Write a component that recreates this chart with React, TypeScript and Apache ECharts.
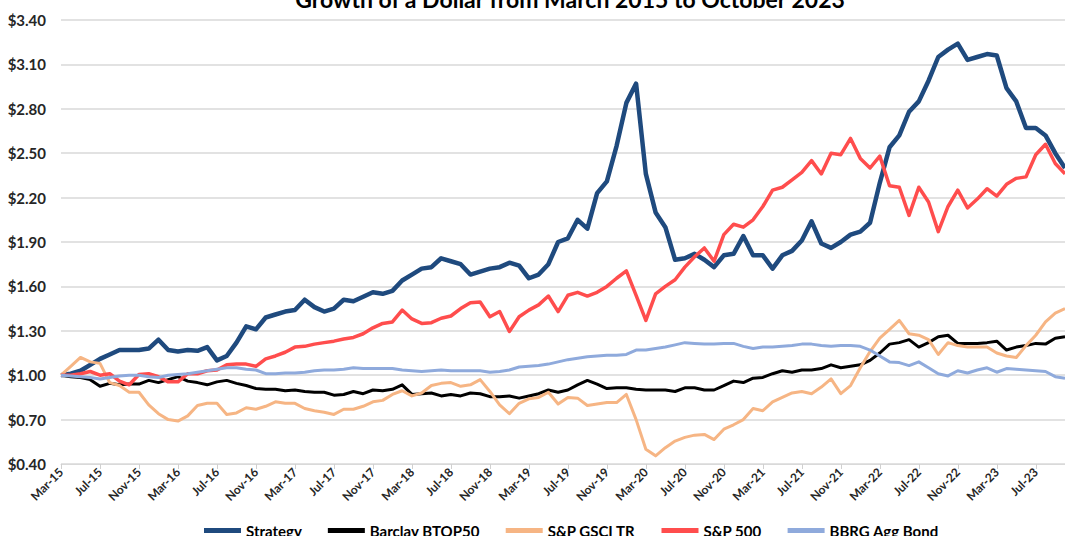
import React, { useEffect, useRef } from "react";
import * as echarts from "echarts";

const titleText = "Growth of a Dollar from March 2015 to October 2023";

const months = [
  "Mar-15","Apr-15","May-15","Jun-15","Jul-15","Aug-15","Sep-15","Oct-15","Nov-15","Dec-15",
  "Jan-16","Feb-16","Mar-16","Apr-16","May-16","Jun-16","Jul-16","Aug-16","Sep-16","Oct-16","Nov-16","Dec-16",
  "Jan-17","Feb-17","Mar-17","Apr-17","May-17","Jun-17","Jul-17","Aug-17","Sep-17","Oct-17","Nov-17","Dec-17",
  "Jan-18","Feb-18","Mar-18","Apr-18","May-18","Jun-18","Jul-18","Aug-18","Sep-18","Oct-18","Nov-18","Dec-18",
  "Jan-19","Feb-19","Mar-19","Apr-19","May-19","Jun-19","Jul-19","Aug-19","Sep-19","Oct-19","Nov-19","Dec-19",
  "Jan-20","Feb-20","Mar-20","Apr-20","May-20","Jun-20","Jul-20","Aug-20","Sep-20","Oct-20","Nov-20","Dec-20",
  "Jan-21","Feb-21","Mar-21","Apr-21","May-21","Jun-21","Jul-21","Aug-21","Sep-21","Oct-21","Nov-21","Dec-21",
  "Jan-22","Feb-22","Mar-22","Apr-22","May-22","Jun-22","Jul-22","Aug-22","Sep-22","Oct-22","Nov-22","Dec-22",
  "Jan-23","Feb-23","Mar-23","Apr-23","May-23","Jun-23","Jul-23","Aug-23","Sep-23","Oct-23",
];

const strategy = [
  1.00, 1.01, 1.03, 1.07, 1.11, 1.14, 1.17, 1.17, 1.17, 1.18,
  1.24, 1.17, 1.16, 1.17, 1.165, 1.19, 1.10, 1.13, 1.22, 1.33,
  1.31, 1.39, 1.41, 1.43, 1.44, 1.51, 1.46, 1.43, 1.45, 1.51,
  1.50, 1.53, 1.56, 1.55, 1.57, 1.64, 1.68, 1.72, 1.73, 1.79,
  1.77, 1.75, 1.68, 1.70, 1.72, 1.73, 1.76, 1.74, 1.655, 1.68,
  1.75, 1.90, 1.925, 2.05, 1.99, 2.23, 2.31, 2.55, 2.84, 2.97,
  2.36, 2.10, 2.00, 1.78, 1.79, 1.82, 1.78, 1.73, 1.81, 1.82,
  1.94, 1.81, 1.81, 1.72, 1.81, 1.84, 1.91, 2.04, 1.89, 1.86,
  1.90, 1.95, 1.97, 2.03, 2.30, 2.54, 2.62, 2.78, 2.85, 2.99,
  3.15, 3.20, 3.24, 3.13, 3.15, 3.17, 3.16, 2.94, 2.85, 2.67,
  2.67, 2.62, 2.50, 2.40,
];

const barclay = [
  1.00, 0.99, 0.985, 0.97, 0.925, 0.945, 0.935, 0.94, 0.94, 0.965,
  0.95, 0.97, 0.99, 0.96, 0.95, 0.935, 0.955, 0.965, 0.945, 0.93,
  0.91, 0.905, 0.905, 0.895, 0.90, 0.89, 0.885, 0.885, 0.865, 0.87,
  0.89, 0.875, 0.90, 0.895, 0.905, 0.935, 0.87, 0.875, 0.88, 0.86,
  0.87, 0.86, 0.88, 0.875, 0.855, 0.855, 0.86, 0.845, 0.86, 0.875,
  0.90, 0.885, 0.90, 0.935, 0.965, 0.94, 0.91, 0.915, 0.915, 0.905,
  0.90, 0.90, 0.90, 0.89, 0.915, 0.915, 0.90, 0.90, 0.93, 0.96,
  0.95, 0.98, 0.985, 1.01, 1.03, 1.02, 1.035, 1.035, 1.045, 1.07,
  1.05, 1.06, 1.07, 1.10, 1.15, 1.21, 1.22, 1.24, 1.19, 1.22,
  1.26, 1.27, 1.215, 1.215, 1.215, 1.22, 1.23, 1.17, 1.19, 1.20,
  1.215, 1.21, 1.25, 1.26,
];

const gsci = [
  1.00, 1.06, 1.12, 1.09, 1.08, 0.95, 0.93, 0.885, 0.885, 0.80,
  0.74, 0.70, 0.69, 0.725, 0.795, 0.81, 0.81, 0.735, 0.745, 0.78,
  0.77, 0.79, 0.82, 0.81, 0.81, 0.775, 0.76, 0.75, 0.735, 0.77,
  0.77, 0.79, 0.82, 0.83, 0.87, 0.895, 0.86, 0.88, 0.93, 0.945,
  0.95, 0.925, 0.935, 0.97, 0.89, 0.80, 0.74, 0.81, 0.84, 0.85,
  0.885, 0.805, 0.85, 0.845, 0.795, 0.805, 0.815, 0.815, 0.87, 0.70,
  0.50, 0.455, 0.51, 0.555, 0.58, 0.595, 0.60, 0.565, 0.635, 0.665,
  0.70, 0.775, 0.76, 0.82, 0.85, 0.88, 0.89, 0.875, 0.92, 0.975,
  0.875, 0.93, 1.05, 1.16, 1.25, 1.31, 1.37, 1.28, 1.27, 1.24,
  1.14, 1.22, 1.20, 1.19, 1.19, 1.19, 1.15, 1.13, 1.12, 1.20,
  1.27, 1.36, 1.42, 1.45,
];

const sp500 = [
  1.00, 1.00, 1.01, 1.025, 1.00, 1.01, 0.96, 0.935, 1.005, 1.01,
  0.99, 0.955, 0.955, 1.01, 1.01, 1.03, 1.035, 1.07, 1.075, 1.075,
  1.06, 1.11, 1.13, 1.155, 1.19, 1.195, 1.21, 1.22, 1.23, 1.245,
  1.255, 1.28, 1.32, 1.35, 1.36, 1.44, 1.38, 1.35, 1.355, 1.385,
  1.40, 1.45, 1.49, 1.495, 1.395, 1.43, 1.295, 1.395, 1.44, 1.475,
  1.535, 1.43, 1.54, 1.56, 1.535, 1.56, 1.60, 1.655, 1.705, 1.54,
  1.37, 1.55, 1.60, 1.645, 1.73, 1.80, 1.86, 1.77, 1.95, 2.02,
  2.00, 2.05, 2.14, 2.25, 2.27, 2.32, 2.37, 2.45, 2.36, 2.50,
  2.49, 2.60, 2.465, 2.40, 2.48, 2.28, 2.27, 2.08, 2.27, 2.17,
  1.97, 2.14, 2.25, 2.13, 2.19, 2.26, 2.21, 2.29, 2.33, 2.34,
  2.49, 2.56, 2.43, 2.36,
];

const bond = [
  1.00, 0.995, 0.99, 0.985, 0.975, 0.985, 0.995, 1.00, 1.00, 0.99,
  0.985, 1.00, 1.005, 1.01, 1.02, 1.03, 1.04, 1.05, 1.05, 1.04,
  1.035, 1.01, 1.01, 1.015, 1.015, 1.02, 1.03, 1.035, 1.035, 1.04,
  1.05, 1.045, 1.045, 1.045, 1.045, 1.035, 1.03, 1.025, 1.03, 1.035,
  1.03, 1.03, 1.03, 1.03, 1.02, 1.025, 1.035, 1.055, 1.06, 1.065,
  1.075, 1.09, 1.105, 1.115, 1.125, 1.13, 1.135, 1.135, 1.14, 1.17,
  1.17, 1.18, 1.19, 1.205, 1.22, 1.215, 1.21, 1.21, 1.215, 1.215,
  1.195, 1.18, 1.19, 1.19, 1.195, 1.20, 1.21, 1.21, 1.20, 1.195,
  1.20, 1.20, 1.195, 1.17, 1.13, 1.09, 1.085, 1.065, 1.09, 1.05,
  1.01, 0.995, 1.03, 1.015, 1.035, 1.05, 1.02, 1.045, 1.04, 1.035,
  1.03, 1.025, 0.99, 0.98,
];

const seriesNames = ["Strategy", "Barclay BTOP50", "S&P GSCI TR", "S&P 500", "BBRG Agg Bond"];
const seriesColors = ["#1F4A7E", "#000000", "#F6B584", "#FF4D4D", "#8FAADC"];
const seriesWidths = [4.5, 3, 3, 3.5, 3];
const seriesData = [strategy, barclay, gsci, sp500, bond];

const FONT = "Lato, 'Open Sans', sans-serif";

export default function App() {
  const ref = useRef<HTMLDivElement>(null);

  useEffect(() => {
    if (!ref.current) return;
    const chart = echarts.init(ref.current, undefined, { renderer: "svg" });
    chart.setOption({
      animation: false,
      backgroundColor: "#ffffff",
      textStyle: { fontFamily: FONT },
      graphic: [
        {
          type: "text",
          x: 570,
          y: -1,
          style: {
            text: titleText,
            fontSize: 23,
            fontWeight: "bold",
            fontFamily: FONT,
            fill: "#000000",
            align: "center",
            verticalAlign: "middle",
          },
        },
      ],
      legend: {
        data: seriesNames,
        left: 199,
        top: 518,
        icon: "rect",
        itemWidth: 37,
        itemHeight: 5,
        itemGap: 26,
        textStyle: { fontSize: 15, fontWeight: "bold", color: "#000000", fontFamily: FONT },
      },
      grid: { left: 61, right: -10, top: 20, bottom: 72, containLabel: false },
      xAxis: {
        type: "category",
        data: months,
        boundaryGap: false,
        axisLine: { lineStyle: { color: "#d9d9d9", width: 1 } },
        axisTick: { show: true, interval: 3, length: 5, lineStyle: { color: "#d0d0d0" } },
        axisLabel: {
          interval: 3,
          rotate: 45,
          fontSize: 12,
          fontWeight: "bold",
          color: "#262626",
          fontFamily: FONT,
          margin: 6,
        },
        splitLine: { show: false },
      },
      yAxis: {
        type: "value",
        min: 0.4,
        max: 3.4,
        interval: 0.3,
        axisLine: { show: false },
        axisTick: { show: false },
        axisLabel: {
          formatter: (v: number) => "$" + v.toFixed(2),
          fontSize: 15,
          fontWeight: "bold",
          color: "#262626",
          fontFamily: FONT,
          margin: 15,
        },
        splitLine: { lineStyle: { color: "#d9d9d9", width: 1.5 } },
      },
      series: seriesNames.map((name, k) => ({
        name,
        type: "line",
        data: seriesData[k],
        showSymbol: false,
        symbol: "none",
        smooth: false,
        color: seriesColors[k],
        lineStyle: { color: seriesColors[k], width: seriesWidths[k], join: "round" },
        z: 2 + k,
      })),
    });
    return () => chart.dispose();
  }, []);

  return (
    <div
      ref={ref}
      style={{ position: "fixed", left: 0, top: 0, width: 1065, height: 536, background: "#fff" }}
    />
  );
}
